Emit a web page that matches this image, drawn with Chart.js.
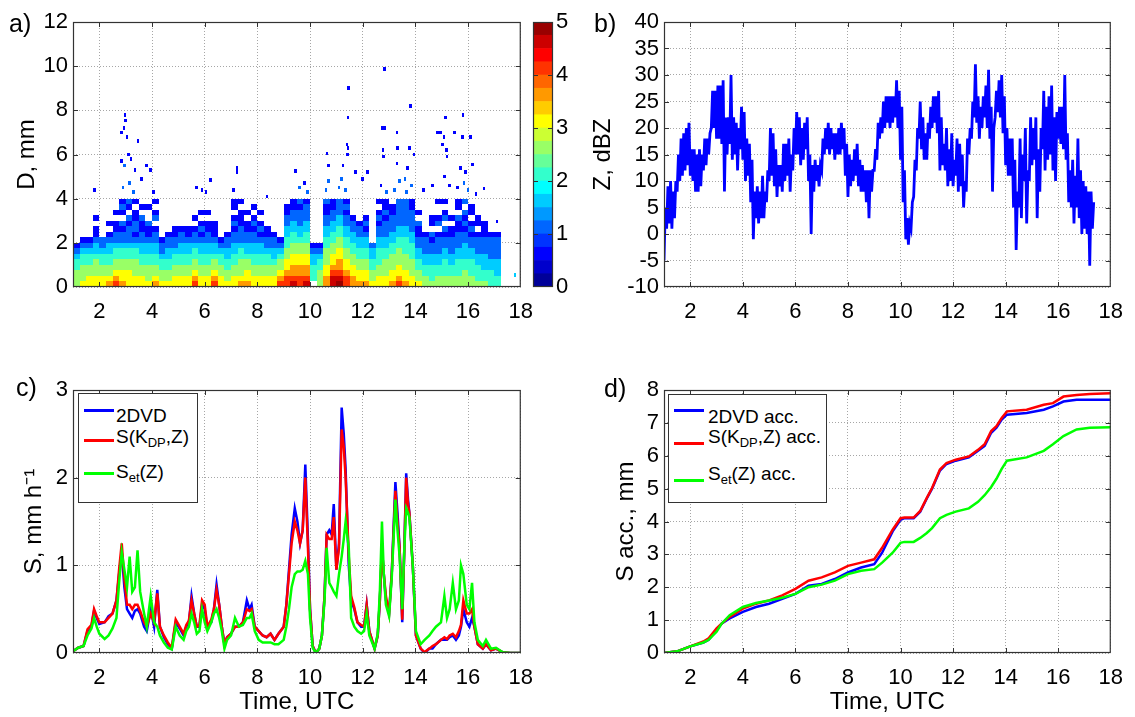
<!DOCTYPE html>
<html><head><meta charset="utf-8">
<script src="https://cdn.jsdelivr.net/npm/chart.js@4.4.1/dist/chart.umd.min.js"></script>
<style>
html,body{margin:0;padding:0;background:#fff;}
#root{position:relative;width:1135px;height:717px;overflow:hidden;font-family:'Liberation Sans',Arial,Helvetica,sans-serif;color:#000;background:#fff;}
.pane{position:absolute;}
.pane canvas{display:block;}
.plabel{position:absolute;font-size:25px;line-height:25px;}
.legend{position:absolute;border:1px solid #333;background:#fff;box-sizing:border-box;}
.lg-line{position:absolute;height:3px;width:30px;}
.lg-text{position:absolute;font-size:19px;line-height:19px;white-space:nowrap;}
.lg-text sub{font-size:13px;vertical-align:-4px;line-height:0;}
</style></head>
<body>
<div id="root">
  <div class="pane" style="left:0;top:0;"><canvas id="cA" width="545" height="335"></canvas></div>
  <div class="pane" style="left:525px;top:0;"><canvas id="cCB" width="60" height="335"></canvas></div>
  <div class="pane" style="left:580px;top:0;"><canvas id="cB" width="555" height="335"></canvas></div>
  <div class="pane" style="left:0;top:340px;"><canvas id="cC" width="545" height="377"></canvas></div>
  <div class="pane" style="left:580px;top:340px;"><canvas id="cD" width="555" height="377"></canvas></div>

  <div class="plabel" style="left:9px;top:11px;">a)</div>
  <div class="plabel" style="left:594px;top:11px;">b)</div>
  <div class="plabel" style="left:16px;top:375px;">c)</div>
  <div class="plabel" style="left:604px;top:376px;">d)</div>

  <div class="legend" style="left:78px;top:393px;width:120px;height:110px;">
    <div class="lg-line" style="left:5px;top:15px;background:#0000ff"></div>
    <div class="lg-text" style="left:37px;top:12px;">2DVD</div>
    <div class="lg-line" style="left:5px;top:45px;background:#ff0000"></div>
    <div class="lg-text" style="left:37px;top:33px;">S(K<sub>DP</sub>,Z)</div>
    <div class="lg-line" style="left:5px;top:78px;background:#00ff00"></div>
    <div class="lg-text" style="left:37px;top:68px;">S<sub>et</sub>(Z)</div>
  </div>
  <div class="legend" style="left:668px;top:394px;width:159px;height:109px;">
    <div class="lg-line" style="left:5px;top:14px;background:#0000ff"></div>
    <div class="lg-text" style="left:39px;top:12px;">2DVD acc.</div>
    <div class="lg-line" style="left:5px;top:47px;background:#ff0000"></div>
    <div class="lg-text" style="left:39px;top:32px;">S(K<sub>DP</sub>,Z) acc.</div>
    <div class="lg-line" style="left:5px;top:84px;background:#00ff00"></div>
    <div class="lg-text" style="left:39px;top:69px;">S<sub>et</sub>(Z) acc.</div>
  </div>
</div>
<script>
// ---------------- DATA ----------------
const X_TICKS = [2,4,6,8,10,12,14,16,18];
const D_TICKS = [0,2,4,6,8,10,12];
const Z_TICKS = [-10,-5,0,5,10,15,20,25,30,35,40];
const S_TICKS = [0,1,2,3];
const ACC_TICKS = [0,1,2,3,4,5,6,7,8];
const CB_TICKS = [0,1,2,3,4,5];
const CB_LEVELS = [0,0.25,0.5,0.75,1,1.25,1.5,1.75,2,2.25,2.5,2.75,3,3.25,3.5,3.75,4,4.25,4.5,4.75];

// panel a: spectrum heat map (log10 concentration), time bins x diameter bins
const heatTimeEdges = [1,1.25,1.5,1.75,2,2.25,2.5,2.75,3,3.25,3.5,3.75,4,4.25,4.5,4.75,5,5.25,5.5,5.75,6,6.25,6.5,6.75,7,7.25,7.5,7.75,8,8.25,8.5,8.75,9,9.25,9.5,9.75,10,10.25,10.5,10.75,11,11.25,11.5,11.75,12,12.25,12.5,12.75,13,13.25,13.5,13.75,14,14.25,14.5,14.75,15,15.25,15.5,15.75,16,16.25,16.5,16.75,17,17.25];
const heatDEdges = [0,0.25,0.5,0.75,1,1.25,1.5,1.75,2,2.25,2.5,2.75,3,3.25,3.5,3.75,4];
const heatColumns = [
 [2.5,2.5,2.5,2,2,1.5,1,0.5, 0,0,0,0,0,0,0,0],
 [3,2.5,2.5,2.5,2,2,1.5,1, 0.5,0,0,0,0,0,0,0],
 [3,3,2.5,2.5,2,2,1.5,1, 0.5,0,0,0,0,0,0,0],
 [3,3,2.5,2.5,2.5,2,1.5,1.5, 1,0.5,0.5,0,0.5,0,0,0],
 [3,3,2.5,2.5,2,2,1.5,1, 1,0,0,0,0,0,0,0],
 [3.5,3,2.5,2.5,2,2,1.5,1.5, 1,0.5,0,0.5,0,0,0,0],
 [4,3.5,3,2.5,2.5,2,2,1.5, 1,1,0.5,0.5,0,0.5,0,0],
 [3.5,3,3,2.5,2.5,2,2,1.5, 1,1,0.5,1,0,0.5,1,0.5],
 [3,3,3,2.5,2.5,2,2,1.5, 1,1,1,0.5,1,0,0.5,1],
 [3,3,2.5,2.5,2.5,2,2,1.5, 1,0.5,1,1,0.5,0.5,0,0.5],
 [3,3,2.5,2.5,2,2,1.5,1.5, 1,1,0.5,0.5,1,0,0.5,0],
 [3,2.5,2.5,2.5,2,2,1.5,1.5, 1,0.5,0.5,1,0,0,0.5,0],
 [3.5,3,2.5,2.5,2,2,1.5,1.5, 1,1,0.5,0,1,0.5,0,0.5],
 [3,2.5,2.5,2,2,1.5,1,1, 0.5,0,0,0,0,0,0,0],
 [3,2.5,2.5,2,2,1.5,1.5,1, 1,0.5,0,0,0,0,0,0],
 [3,3,2.5,2.5,2,2,1.5,1, 1,0.5,0.5,0,0,0,0,0],
 [3,3,2.5,2.5,2,2,1.5,1.5, 1,1,0.5,0,0,0,0,0],
 [3,3,2.5,2.5,2,2,1.5,1.5, 1,0.5,0.5,0,0,0,0,0],
 [4,3.5,3,2.5,2.5,2,2,1.5, 1,1,0.5,0,0.5,0,0,0],
 [3,3,2.5,2.5,2,2,1.5,1.5, 1,0.5,1,0.5,0,0.5,0,0],
 [3,3,2.5,2.5,2,2,1.5,1.5, 1,1,0.5,0.5,0,0.5,0,0],
 [4,3.5,3,2.5,2.5,2,1.5,1.5, 1,0.5,0.5,0.5,0,0,0,0],
 [3,3,2.5,2.5,2,2,1.5,1, 0.5,0,0,0,0,0,0,0],
 [3,2.5,2.5,2,2,1.5,1.5,1, 1,0.5,0,0,0,0,0,0],
 [3,3,2.5,2.5,2,2,1.5,1.5, 1,1,0.5,1,0.5,0,0.5,0.5],
 [3.5,3,2.5,2.5,2.5,2,2,1.5, 1,1,1,0.5,0.5,0.5,0,0.5],
 [3.5,3,3,2.5,2.5,2,1.5,1.5, 1,1,0.5,0.5,0,0.5,0,0],
 [3,3,2.5,2.5,2,2,1.5,1.5, 1,1,0.5,1,0.5,0,0.5,0],
 [3,3,2.5,2.5,2,2,1.5,1.5, 1,0.5,1,0.5,0,0.5,0,0],
 [3,3,2.5,2.5,2,2,1.5,1, 1,0.5,0.5,0,0,0,0,0],
 [3,3,2.5,2.5,2,1.5,1.5,1, 1,0.5,0,0,0,0,0,0],
 [4,3.5,3,2.5,2.5,2,1.5,1, 0.5,0,0,0,0,0,0,0],
 [4,4,3.5,3,3,2.5,2.5,2, 2,1.5,1.5,1,1,0.5,0.5,0],
 [4.5,4,3.5,3.5,3,3,2.5,2.5, 2,2,1.5,1.5,1,1,0.5,0.5],
 [4,4,3.5,3.5,3,3,2.5,2.5, 2,1.5,1.5,1,1,1,0.5,1],
 [4.5,4,3.5,3.5,3,3,2.5,2.5, 2,2,1.5,1.5,1,1,1,0.5],
 [0,2,2,2,1.5,1.5,1,0.5, 0,0,0,0,0,0,0,0],
 [2.5,2.5,2.5,2,2,1.5,1,0.5, 0,0,0,0,0,0,0,0],
 [3.5,3.5,3,3,2.5,2.5,2.5,2, 2,1.5,1.5,1,1,0.5,0.5,1],
 [4.5,4.5,4,3.5,3,3,2.5,2.5, 2,2,1.5,1.5,1,1,0.5,0.5],
 [5,4.5,4,3.5,3.5,3,3,2.5, 2.5,2,2,1.5,1.5,1,1,1],
 [4,4,3.5,3,3,2.5,2.5,2, 2,1.5,1.5,1,1,0.5,1,0.5],
 [3.5,3.5,3,3,2.5,2.5,2,2, 1.5,1.5,1,1,0.5,0,0,0],
 [3.5,3,3,2.5,2.5,2,2,1.5, 1.5,1,1,0.5,0,0,0,0],
 [3.5,3,3,2.5,2.5,2,2,1.5, 1.5,1,0.5,1,0.5,0,0,0],
 [3,2.5,2.5,2,2,1.5,1.5,1, 0,0,0,0,0,0,0,0],
 [3,3,2.5,2.5,2,2,2,1.5, 1.5,1,1,0.5,1,0.5,0,0.5],
 [3,3,2.5,2.5,2.5,2,2,1.5, 1.5,1,1,1,0.5,1,0.5,0.5],
 [3.5,3,3,2.5,2.5,2.5,2,2, 1.5,1.5,1,1,1,0.5,0.5,0],
 [4,3.5,3,3,2.5,2.5,2.5,2, 2,1.5,1.5,1,1,1,1,1],
 [3.5,3,3,2.5,2.5,2.5,2,2, 2,1.5,1.5,1,1,1,1,1],
 [3,3,2.5,2.5,2.5,2,2,2, 1.5,1.5,1,1,1,1,0.5,0.5],
 [3,2.5,2.5,2,2,1.5,1.5,1, 1,0.5,0.5,1,0,0.5,0,0],
 [2.5,2.5,2,2,1.5,1.5,1,1, 1,0.5,0,0,0,0,0,0],
 [2.5,2,2,2,1.5,1.5,1,1, 0.5,1,0,0.5,0.5,0,0,0],
 [2.5,2.5,2,2,1.5,1.5,1,1, 1,0.5,0,1,0.5,0,0,0.5],
 [2.5,2.5,2,2,2,1.5,1.5,1, 1,0.5,1,0,1,0.5,0,0.5],
 [2.5,2.5,2,2,1.5,1.5,1,1, 1,0.5,0.5,0,0.5,0,0,0],
 [2.5,2.5,2,2,2,1.5,1.5,1, 1,1,0.5,0.5,1,0,0.5,0.5],
 [2.5,2.5,2.5,2,2,1.5,1.5,1.5, 1,1,0.5,1,0.5,1,0,1],
 [2.5,2.5,2,2,2,1.5,1.5,1, 1,0.5,1,0.5,0,0.5,0.5,0],
 [2.5,2,2,2,1.5,1.5,1,1, 1,0.5,0,0.5,0.5,0,0,0],
 [2.5,2,2,1.5,1.5,1.5,1,1, 1,0.5,0.5,0.5,0,0,0,0],
 [2,2,2,1.5,1.5,1,1,1, 1,0.5,0,0,0,0,0,0],
 [2,2,1.5,1.5,1.5,1,1,1, 1,0.5,0,0,0,0,0,0]
];
// isolated large drops
const dotT = [1.82,2.98,3.0,2.93,2.83,3.05,3.47,2.85,3.1,3.2,2.95,3.35,3.8,3.95,3.6,3.15,2.9,3.3,4.05,5.68,5.9,6.23,6.05,7.22,7.22,7.1,8.36,9.44,9.6,9.8,9.9,10.65,10.71,10.7,10.6,11.25,11.2,11.1,11.35,11.4,11.44,11.43,11.44,11.47,11.72,12.17,11.98,12.83,12.74,12.82,12.77,12.8,12.7,12.9,13.3,13.33,13.3,13.4,13.2,13.81,13.77,13.95,13.7,13.6,13.85,13.65,14.64,14.3,14.83,14.96,15.14,15.08,15.02,15.17,15.2,15.1,15.3,15.49,15.78,15.8,16.1,16.16,15.9,15.7,15.85,16.0,15.6,16.6,16.3,17.1,17.78];
const dotD = [4.4,7.8,7.55,7.2,7.0,6.8,6.6,5.7,6.0,5.8,5.5,5.3,5.5,5.3,4.9,4.7,4.5,4.3,4.3,4.5,4.4,4.85,4.3,5.4,5.2,4.4,4.1,5.25,4.5,4.7,4.3,6.05,5.5,4.8,4.4,5.5,4.9,4.5,4.4,6.45,6.3,6.0,7.67,9.0,5.2,5.2,4.9,9.86,7.2,7.2,6.2,5.9,4.6,4.3,7.0,6.3,5.6,4.8,4.4,8.2,6.3,6.0,5.4,4.9,4.6,4.3,4.6,4.4,7.0,7.0,7.67,6.8,6.45,6.2,5.9,5.0,4.6,7.0,6.8,7.8,6.8,5.55,5.2,5.4,4.7,4.4,4.5,4.45,4.2,2.97,0.55];
const dotV = [0.5,0.5,0.5,0.5,0.5,0.5,0.5,0.5,0.5,0.5,1,0.5,0.5,0.5,0.5,1,1,1,0.5,0.5,0.5,0.5,0.5,0.5,0.5,0.5,0.5,0.5,1,0.5,1,0.5,0.5,1,1,0.5,1,1,1,0.5,0.5,0.5,0.5,0.5,0.5,0.5,0.5,0.5,0.5,0.5,0.5,0.5,0.5,1,0.5,0.5,0.5,1,1,0.5,0.5,0.5,0.5,1,1,1,0.5,0.5,0.5,0.5,0.5,0.5,0.5,0.5,0.5,0.5,0.5,0.5,0.5,0.5,0.5,0.5,0.5,0.5,1,1,0.5,0.5,0.5,0.5,1.5];

// panel b: reflectivity, min/max within each 0.1 h step
const zTime = [1.0,1.1,1.2,1.3,1.4,1.5,1.6,1.7,1.8,1.9, 2.0,2.1,2.2,2.3,2.4,2.5,2.6,2.7,2.8,2.9, 3.0,3.1,3.2,3.3,3.4,3.5,3.6,3.7,3.8,3.9, 4.0,4.1,4.2,4.3,4.4,4.5,4.6,4.7,4.8,4.9, 5.0,5.1,5.2,5.3,5.4,5.5,5.6,5.7,5.8,5.9, 6.0,6.1,6.2,6.3,6.4,6.5,6.6,6.7,6.8,6.9, 7.0,7.1,7.2,7.3,7.4,7.5,7.6,7.7,7.8,7.9, 8.0,8.1,8.2,8.3,8.4,8.5,8.6,8.7,8.8,8.9, 9.0,9.1,9.2,9.3,9.4,9.5,9.6,9.7,9.8,9.9, 10.0,10.1,10.2,10.3,10.4,10.5,10.6,10.7,10.8,10.9, 11.0,11.1,11.2,11.3,11.4,11.5,11.6,11.7,11.8,11.9, 12.0,12.1,12.2,12.3,12.4,12.5,12.6,12.7,12.8,12.9, 13.0,13.1,13.2,13.3,13.4,13.5,13.6,13.7,13.8,13.9, 14.0,14.1,14.2,14.3,14.4,14.5,14.6,14.7,14.8,14.9, 15.0,15.1,15.2,15.3,15.4,15.5,15.6,15.7,15.8,15.9, 16.0,16.1,16.2,16.3,16.4,16.5,16.6,16.7,16.8,16.9, 17.0,17.1,17.2,17.3];
const zLow = [-5,1,2,1,3,8,10,11,12,13, 11,10,8,8,9,12,13,15,20,20, 18,18,17,8,15,17,14,15,12,16, 14,10,11,6,-1,3,2,3,3,6, 10,11,9,7,9,8,10,11,8,12, 15,15,13,14,16,10,0,8,10,9, 12,15,16,15,16,14,15,15,16,11, 7,9,10,11,9,8,8,6,3,8, 12,14,18,19,20,21,20,21,22,20, 14,6,-1,-2,1,7,12,18,16,14, 14,18,20,21,19,12,13,12,9,10, 9,11,8,9,5,8,15,18,22,21, 18,20,22,20,18,8,22,23,22,19, 13,11,11,5,-3,5,3,10,2,10, 13,14,3,8,16,12,14,15,12,10, 18,17,16,14,6,5,2,5,3,0, 1,0,-6,1];
const zHigh = [5,9,10,8,10,15,18,19,20,21, 16,16,15,16,15,18,18,19,27,27, 28,28,29,22,22,30,22,21,20,24, 23,18,17,14,8,9,8,11,8,12, 20,19,16,13,13,17,17,18,15,20, 23,22,20,21,22,15,13,14,13,13, 18,20,21,20,19,19,20,21,20,17, 15,14,16,17,14,13,12,12,12,12, 16,21,22,25,26,26,26,26,29,27, 24,12,3,2,6,14,20,25,22,19, 21,24,26,26,27,22,17,20,16,19, 14,18,17,15,10,18,20,25,32,26, 24,26,28,31,24,20,27,29,30,26, 20,18,18,14,8,18,15,20,12,22, 20,22,16,20,27,24,26,28,22,23, 24,24,30,19,12,14,11,18,12,10, 9,8,8,6];

// panel c: snowfall rate
const sTime = [1.0,1.2,1.4,1.55,1.7,1.8,1.9,2.0,2.2,2.35, 2.5,2.65,2.75,2.85,2.95,3.05,3.15,3.25,3.35,3.45, 3.55,3.7,3.8,3.95,4.08,4.2,4.3,4.45,4.6,4.75, 4.9,5.05,5.2,5.3,5.4,5.5,5.6,5.7,5.8,5.9, 6.0,6.1,6.25,6.35,6.45,6.55,6.65,6.75,6.85,7.0, 7.15,7.3,7.45,7.6,7.7,7.78,7.9,8.05,8.2,8.35, 8.5,8.65,8.8,9.0,9.1,9.2,9.3,9.42,9.52,9.62, 9.72,9.82,9.92,10.0,10.1,10.22,10.35,10.45,10.55,10.63, 10.73,10.82,10.9,11.0,11.1,11.2,11.28,11.35,11.47,11.56, 11.68,11.8,11.94,12.05,12.15,12.25,12.45,12.57,12.65,12.73, 12.8,12.88,13.0,13.1,13.24,13.32,13.4,13.5,13.58,13.65, 13.72,13.77,13.9,14.02,14.2,14.35,14.53,14.65,14.78,14.97, 15.1,15.2,15.3,15.42,15.54,15.65,15.73,15.82,15.95,16.05, 16.15,16.24,16.37,16.56,16.68,16.87,17.06,17.3,17.6,18.0];
const s2dvd = [0.02,0.06,0.08,0.25,0.3,0.48,0.4,0.33,0.35,0.42, 0.45,0.6,0.9,1.15,0.75,0.5,0.45,0.4,0.48,0.5, 0.45,0.3,0.25,0.5,0.3,0.72,0.3,0.18,0.1,0.05, 0.35,0.28,0.2,0.3,0.35,0.65,0.45,0.3,0.3,0.55, 0.5,0.3,0.35,0.5,0.78,0.55,0.3,0.1,0.18,0.22, 0.3,0.3,0.35,0.6,0.5,0.55,0.3,0.25,0.2,0.18, 0.22,0.15,0.22,0.3,0.55,0.95,1.35,1.65,1.5,1.25, 1.4,2.15,1.3,0.5,0.08,0.0,0.05,0.2,0.65,1.35, 1.4,1.35,1.7,0.95,1.25,2.8,2.5,2.1,1.0,0.6, 0.5,0.35,0.3,0.3,0.55,0.25,0.05,0.2,0.6,1.2, 0.9,0.6,0.45,0.9,1.95,1.6,1.2,0.35,1.2,2.05, 1.75,1.6,1.0,0.2,0.05,0.0,0.05,0.05,0.1,0.15, 0.15,0.15,0.18,0.2,0.15,0.2,0.3,0.5,0.35,0.3, 0.4,0.3,0.1,0.05,0.1,0.03,0.05,0.01,0.0,0.0];
const sKdpZ = [0.02,0.06,0.08,0.27,0.32,0.5,0.42,0.35,0.35,0.4, 0.45,0.6,0.95,1.25,0.85,0.55,0.55,0.5,0.55,0.55, 0.48,0.35,0.3,0.45,0.35,0.68,0.3,0.2,0.12,0.06, 0.38,0.3,0.22,0.32,0.37,0.6,0.45,0.3,0.32,0.6, 0.55,0.3,0.38,0.5,0.72,0.55,0.3,0.1,0.18,0.22, 0.3,0.3,0.35,0.5,0.48,0.5,0.3,0.25,0.2,0.18, 0.22,0.15,0.22,0.3,0.55,0.9,1.25,1.5,1.4,1.25, 1.4,2.0,1.2,0.5,0.08,0.0,0.05,0.2,0.65,1.35, 1.3,1.3,1.55,0.95,1.2,2.55,2.35,2.0,1.1,0.65, 0.52,0.35,0.32,0.3,0.55,0.25,0.05,0.2,0.6,1.2, 0.9,0.65,0.45,0.9,1.85,1.5,1.2,0.38,1.2,2.0, 1.7,1.6,1.0,0.2,0.05,0.01,0.05,0.08,0.1,0.15, 0.18,0.16,0.2,0.22,0.18,0.25,0.32,0.6,0.45,0.45, 0.5,0.3,0.1,0.05,0.1,0.03,0.05,0.01,0.0,0.0];
const sEtZ = [0.02,0.06,0.08,0.2,0.28,0.4,0.3,0.22,0.16,0.2, 0.28,0.4,0.8,1.15,0.95,0.75,1.1,0.7,0.75,1.17, 0.7,0.45,0.3,0.65,0.35,0.3,0.2,0.12,0.06,0.04, 0.3,0.2,0.15,0.25,0.3,0.45,0.35,0.22,0.25,0.5, 0.35,0.25,0.35,0.45,0.5,0.4,0.25,0.05,0.15,0.2, 0.4,0.3,0.32,0.4,0.4,0.45,0.25,0.15,0.12,0.12, 0.12,0.1,0.1,0.15,0.3,0.5,0.75,0.9,0.93,0.93, 0.95,1.05,0.9,0.4,0.06,0.0,0.05,0.2,0.6,1.2, 0.8,0.75,0.7,0.65,0.9,1.1,1.3,1.5,1.2,0.4, 0.3,0.25,0.22,0.25,0.45,0.2,0.05,0.22,0.7,1.5, 0.9,0.55,0.42,0.85,1.75,1.4,1.1,0.5,1.2,1.65, 1.6,1.55,1.0,0.25,0.1,0.15,0.2,0.25,0.3,0.35, 0.65,0.4,0.5,0.8,0.5,0.6,1.0,0.9,0.55,0.5, 0.8,0.35,0.15,0.08,0.15,0.05,0.06,0.01,0.0,0.0];

// panel d: accumulations
const accTime = [1.0,1.5,2.0,2.5,2.7,3.0,3.2,3.5,4.0,4.5, 5.0,5.5,6.0,6.5,7.0,7.5,8.0,8.5,9.0,9.3, 9.7,10.0,10.15,10.5,10.75,11.0,11.2,11.5,11.75,12.1, 12.6,12.95,13.2,13.45,13.65,13.85,14.05,14.8,15.45,15.8, 16.2,16.7,17.2,18.0];
const acc2dvd = [0.0,0.05,0.2,0.32,0.4,0.7,0.9,1.05,1.25,1.4, 1.5,1.65,1.8,2.05,2.1,2.25,2.45,2.6,2.7,3.05, 3.7,4.05,4.1,4.1,4.3,4.7,5.0,5.55,5.75,5.85, 5.95,6.15,6.3,6.7,6.85,7.1,7.25,7.3,7.4,7.5, 7.65,7.7,7.7,7.7];
const accKdpZ = [0.0,0.05,0.2,0.35,0.45,0.75,0.9,1.1,1.35,1.5, 1.6,1.75,1.95,2.2,2.3,2.45,2.65,2.75,2.85,3.2, 3.75,4.1,4.12,4.12,4.32,4.72,5.02,5.58,5.78,5.88, 5.98,6.18,6.35,6.75,6.9,7.15,7.35,7.4,7.55,7.6, 7.8,7.85,7.88,7.9];
const accEtZ = [0.0,0.05,0.2,0.32,0.4,0.65,0.9,1.15,1.4,1.52, 1.6,1.68,1.8,2.0,2.08,2.2,2.4,2.5,2.55,2.75, 3.05,3.35,3.38,3.38,3.5,3.65,3.8,4.1,4.2,4.3, 4.4,4.6,4.8,5.05,5.3,5.6,5.85,5.95,6.15,6.35, 6.6,6.8,6.85,6.87];

// ---------------- RENDERING ----------------
const FONT = "'Liberation Sans', Arial, Helvetica, sans-serif";
Chart.defaults.font.family = FONT;
Chart.defaults.color = '#000';

function jet(v){
  let k = Math.floor(v/0.25 + 1e-9); if(k<0)k=0; if(k>19)k=19;
  const x = (k+0.5)/20;
  const cl = t => Math.max(0, Math.min(1, t));
  const r = cl(1.5-Math.abs(4*x-3)), g = cl(1.5-Math.abs(4*x-2)), b = cl(1.5-Math.abs(4*x-1));
  return 'rgb('+Math.round(r*255)+','+Math.round(g*255)+','+Math.round(b*255)+')';
}

const framePlugin = {
  id:'frame',
  afterDraw(chart){
    const {ctx, chartArea:a} = chart;
    ctx.save();
    ctx.strokeStyle = '#333'; ctx.lineWidth = 1;
    const L=5;
    ctx.beginPath();
    const xs = chart.scales.x, ys = chart.scales.y;
    if (xs && xs.options.display) {
      xs.ticks.forEach(t=>{
        const p = Math.round(xs.getPixelForValue(t.value))+0.5;
        if (p<=a.left+1 || p>=a.right-1) return;
        ctx.moveTo(p,a.bottom); ctx.lineTo(p,a.bottom-L);
        ctx.moveTo(p,a.top); ctx.lineTo(p,a.top+L);
      });
    }
    if (ys) {
      ys.ticks.forEach(t=>{
        const p = Math.round(ys.getPixelForValue(t.value))+0.5;
        if (p<=a.top+1 || p>=a.bottom-1) return;
        ctx.moveTo(a.left,p); ctx.lineTo(a.left+L,p);
        ctx.moveTo(a.right,p); ctx.lineTo(a.right-L,p);
      });
    }
    ctx.stroke();
    ctx.lineWidth = 1.2;
    ctx.strokeRect(a.left+0.5, a.top+0.5, a.right-a.left-1, a.bottom-a.top-1);
    ctx.restore();
  }
};

const heatPlugin = {
  id:'heat',
  beforeDatasetsDraw(chart){
    const xs=chart.scales.x, ys=chart.scales.y, ctx=chart.ctx;
    ctx.save();
    for (let c=0;c<heatColumns.length;c++){
      const x0=Math.round(xs.getPixelForValue(heatTimeEdges[c]));
      const x1=Math.round(xs.getPixelForValue(heatTimeEdges[c+1]));
      const col=heatColumns[c];
      for (let r=0;r<col.length;r++){
        const v=col[r]; if(!v) continue;
        const yb=Math.round(ys.getPixelForValue(heatDEdges[r]));
        const yt=Math.round(ys.getPixelForValue(heatDEdges[r+1]));
        ctx.fillStyle=jet(v);
        ctx.fillRect(x0, yt, x1-x0, yb-yt);
      }
    }
    for (let i=0;i<dotT.length;i++){
      const x0=Math.round(xs.getPixelForValue(dotT[i]-0.05));
      const x1=Math.round(xs.getPixelForValue(dotT[i]+0.05));
      const yb=Math.round(ys.getPixelForValue(dotD[i]-0.08));
      const yt=Math.round(ys.getPixelForValue(dotD[i]+0.08));
      ctx.fillStyle=jet(dotV[i]);
      ctx.fillRect(x0, yt, Math.max(2,x1-x0), Math.max(2,yb-yt));
    }
    ctx.restore();
  }
};

function axis(o){
  const s = {
    type:'linear', min:o.min, max:o.max,
    position:o.position || undefined,
    display: o.display===false ? false : true,
    afterBuildTicks: sc => { sc.ticks = o.ticks.map(v=>({value:v})); },
    ticks:{padding:o.tickPad, color:'#000', font:{size:22, family:FONT}, autoSkip:false, maxRotation:0, minRotation:0, callback:v=>String(v)},
    grid:{display:o.grid!==false, drawTicks:false, color:'#a6a6a6', lineWidth:1},
    border:{display:false, dash:[1,2]}
  };
  if (o.width!=null) s.afterFit = sc => { sc.width = o.width; };
  if (o.height!=null) s.afterFit = sc => { sc.height = o.height; };
  if (o.title) s.title = {display:true, text:o.title, color:'#000', font:{size:24, family:FONT}, padding:{top:o.titlePad||0, bottom:o.titlePadB||0}};
  if (o.stacked) s.stacked = true;
  return s;
}

function baseOpts(padding, x, y){
  return {
    responsive:false, maintainAspectRatio:false, devicePixelRatio:1, animation:false, events:[],
    layout:{padding:padding},
    plugins:{legend:{display:false}, tooltip:{enabled:false}},
    scales:{x:x, y:y}
  };
}

function lineDs(xArr, yArr, color, order){
  return {data:xArr.map((t,i)=>({x:t, y:yArr[i]})), borderColor:color, backgroundColor:color,
    borderWidth:2.5, pointRadius:0, showLine:true, tension:0, fill:false, order:order};
}

// Panel a
new Chart(document.getElementById('cA'), {
  type:'scatter',
  data:{datasets:[{data:[], pointRadius:0}]},
  options: baseOpts({left:0, top:22, right:23, bottom:0},
    axis({min:1, max:18, ticks:X_TICKS, tickPad:12, height:48}),
    axis({min:0, max:12, ticks:D_TICKS, tickPad:5, width:73, title:'D, mm', titlePad:13})),
  plugins:[heatPlugin, framePlugin]
});

// Colorbar
new Chart(document.getElementById('cCB'), {
  type:'bar',
  data:{labels:['cb'], datasets: CB_LEVELS.map(l=>({data:[0.25], backgroundColor:jet(l), borderWidth:0, barPercentage:1, categoryPercentage:1}))},
  options: baseOpts({left:8, top:22, right:0, bottom:48},
      {type:'category', display:false, stacked:true, grid:{display:false}},
      axis({min:0, max:5, ticks:CB_TICKS, tickPad:3, width:32, position:'right', grid:false, stacked:true})),
  plugins:[framePlugin]
});

// Panel b
new Chart(document.getElementById('cB'), {
  type:'scatter',
  data:{datasets:[{
    data: zTime.flatMap((t,i)=>[{x:t, y:zLow[i]}, {x:t+0.05, y:zHigh[i]}]),
    borderColor:'#0000ff', borderWidth:2.8, pointRadius:0, showLine:true, tension:0
  }]},
  options: baseOpts({left:0, top:22, right:22, bottom:0},
    axis({min:1, max:18, ticks:X_TICKS, tickPad:12, height:48}),
    axis({min:-10, max:40, ticks:Z_TICKS, tickPad:5, width:84, title:'Z, dBZ', titlePad:9})),
  plugins:[framePlugin]
});

// Panel c (blue drawn first, green on top)
new Chart(document.getElementById('cC'), {
  type:'scatter',
  data:{datasets:[lineDs(sTime, s2dvd, '#0000ff', 3), lineDs(sTime, sKdpZ, '#ff0000', 2), lineDs(sTime, sEtZ, '#00ff00', 1)]},
  options: baseOpts({left:0, top:50, right:23, bottom:0},
    axis({min:1, max:18, ticks:X_TICKS, tickPad:12, height:64, title:'Time, UTC', titlePad:0, titlePadB:0}),
    axis({min:0, max:3, ticks:S_TICKS, tickPad:5, width:73, title:'S, mm h\u207B\u00B9', titlePad:20})),
  plugins:[framePlugin]
});

// Panel d
new Chart(document.getElementById('cD'), {
  type:'scatter',
  data:{datasets:[lineDs(accTime, acc2dvd, '#0000ff', 3), lineDs(accTime, accKdpZ, '#ff0000', 2), lineDs(accTime, accEtZ, '#00ff00', 1)]},
  options: baseOpts({left:0, top:50, right:23, bottom:0},
    axis({min:1, max:18, ticks:X_TICKS, tickPad:12, height:64, title:'Time, UTC', titlePad:0, titlePadB:0}),
    axis({min:0, max:8, ticks:ACC_TICKS, tickPad:5, width:84, title:'S acc., mm', titlePad:32})),
  plugins:[framePlugin]
});
</script>
</body></html>
